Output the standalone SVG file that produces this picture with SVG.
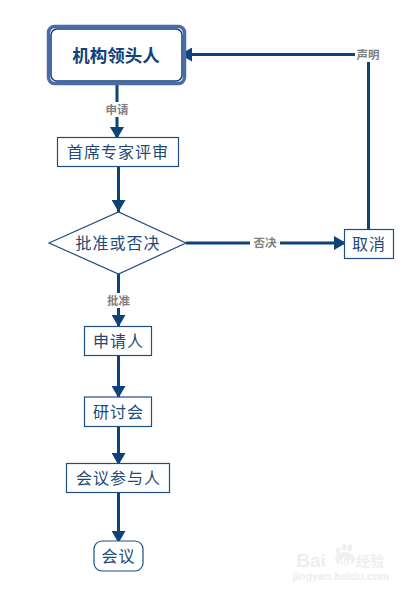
<svg xmlns="http://www.w3.org/2000/svg" width="414" height="593" viewBox="0 0 414 593">
<style>
.n{fill:#fff;stroke:#1f4f80;stroke-width:1.2}
.t{font-family:"Noto Sans CJK SC","Liberation Sans",sans-serif;font-size:16px;letter-spacing:1px;fill:#1d4a78;text-anchor:middle;font-weight:400}
.l{font-family:"Noto Sans CJK SC","Liberation Sans",sans-serif;font-size:11.500px;font-weight:700;fill:#808080;text-anchor:middle}
.c{fill:none;stroke:#0e4378;stroke-width:3}
.g{fill:#fff}
.w{font-family:"Liberation Sans","Noto Sans CJK SC",sans-serif;fill:#eeeeee;text-anchor:middle;font-weight:700}
</style>
<defs>
<marker id="a" markerUnits="userSpaceOnUse" markerWidth="13" markerHeight="14" refX="12" refY="7" orient="auto"><path d="M0 0L12 7L0 14Z" fill="#0e4378"/></marker>
</defs>
<rect width="414" height="593" fill="#fff"/>
<g id="connectors">
<path class="c" d="M117 85V139" marker-end="url(#a)"/>
<path class="c" d="M118.500 167V212" marker-end="url(#a)"/>
<path class="c" d="M118.500 274V327" marker-end="url(#a)"/>
<path class="c" d="M118.500 356V398" marker-end="url(#a)"/>
<path class="c" d="M118.500 427V465" marker-end="url(#a)"/>
<path class="c" d="M118.500 493V543" marker-end="url(#a)"/>
<path class="c" d="M186 243H346" marker-end="url(#a)"/>
<path class="c" d="M368.500 229V54.500H180" marker-end="url(#a)"/>
<rect class="g" x="104" y="102" width="27" height="15"/>
<text class="l" x="117" y="114">申请</text>
<rect class="g" x="105" y="293" width="27" height="15"/>
<text class="l" x="118.500" y="304.500">批准</text>
<rect class="g" x="250" y="236" width="30" height="15"/>
<text class="l" x="265" y="247">否决</text>
<rect class="g" x="355" y="47" width="27" height="15"/>
<text class="l" x="368" y="59">声明</text>
</g>
<g id="n1">
<rect x="48.500" y="26.500" width="136" height="57" rx="6" fill="#fff" stroke="#4a6ba8" stroke-width="3.500"/>
<rect x="51" y="29" width="131" height="52" rx="6" fill="none" stroke="#12427a" stroke-width="1.500"/>
<text x="116" y="62" font-family="'Noto Sans CJK SC','Liberation Sans',sans-serif" font-size="17.500" font-weight="700" fill="#12427a" text-anchor="middle">机构领头人</text>
</g>
<g id="n2"><rect class="n" x="57.500" y="137.500" width="121" height="29"/><text class="t" x="118" y="158">首席专家评审</text></g>
<g id="n3"><path class="n" d="M49 243L118.500 212L186 243L118.500 274Z"/><text class="t" x="118" y="249">批准或否决</text></g>
<g id="n4"><rect class="n" x="344.500" y="229.500" width="49" height="29"/><text class="t" x="369" y="250">取消</text></g>
<g id="n5"><rect class="n" x="84.500" y="326.500" width="67" height="29"/><text class="t" x="118.500" y="347">申请人</text></g>
<g id="n6"><rect class="n" x="84.500" y="397" width="67" height="29.500"/><text class="t" x="118.500" y="418">研讨会</text></g>
<g id="n7"><rect class="n" x="66.500" y="463.500" width="103" height="29"/><text class="t" x="118.500" y="484">会议参与人</text></g>
<g id="n8"><rect class="n" x="94" y="541" width="49" height="30" rx="8"/><text class="t" x="118.500" y="561.500">会议</text></g>
<g id="watermark">
<g fill="#f0f0f0"><ellipse cx="338" cy="551" rx="2.500" ry="3.500"/><ellipse cx="344" cy="547" rx="2.500" ry="3.500"/><ellipse cx="350" cy="548" rx="2.500" ry="3.500"/><ellipse cx="345" cy="559" rx="10" ry="7"/></g>
<text class="w" x="311" y="567" font-size="19">Bai</text>
<text x="345" y="566" font-family="'Liberation Sans',sans-serif" font-size="11" font-weight="700" fill="#fff" text-anchor="middle">du</text>
<text class="w" x="370" y="566" font-size="14">经验</text>
<text class="w" x="341" y="580" font-size="11">jingyan.baidu.com</text>
</g>
</svg>
